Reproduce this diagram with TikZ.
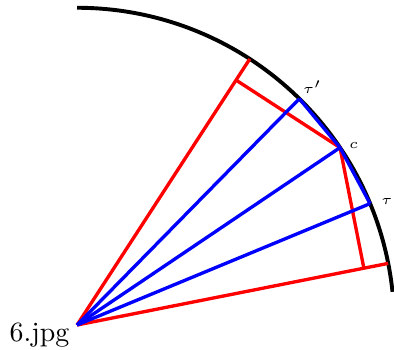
\documentclass[tikz,border=0pt]{standalone}
\usetikzlibrary{calc}
\begin{document}
\begin{tikzpicture}
    \useasboundingbox (-0.971,-0.315) rectangle (3.997,4.098);
    \coordinate (O) at (0,0);
    \coordinate (top) at (90:4);
    \coordinate (c) at (34:4);
    \coordinate (tp) at (45.5:4);
    \coordinate (t) at (22.5:4);
    \coordinate (rt) at (57:4);
    \coordinate (rb) at (11.2:4);
    \coordinate (ft) at ($(O)!(c)!(rt)$);
    \coordinate (fb) at ($(O)!(c)!(rb)$);
    \node[anchor=base] (img) at (-0.473,-0.214) {6.jpg};
    \draw[line width=1.4pt] (top) arc (90:6:4);
    \draw[red,line width=1.2pt] (O) -- (rt);
    \draw[red,line width=1.2pt] (O) -- (rb);
    \draw[red,line width=1.2pt] (ft) -- (c) -- (fb);
    \draw[blue,line width=1.2pt] (O) -- (tp);
    \draw[blue,line width=1.2pt] (O) -- (c);
    \draw[blue,line width=1.2pt] (O) -- (t);
    \draw[blue,line width=1.2pt,line join=round] (tp) -- (c) -- (t);
    \node[font=\tiny] (ltp) at (45.3:4.22) {\(\tau'\)};
    \node[font=\tiny] (lc) at (33:4.16) {\(c\)};
    \node[font=\tiny] (lt) at (21.8:4.21) {\(\tau\)};
\end{tikzpicture}
\end{document}
